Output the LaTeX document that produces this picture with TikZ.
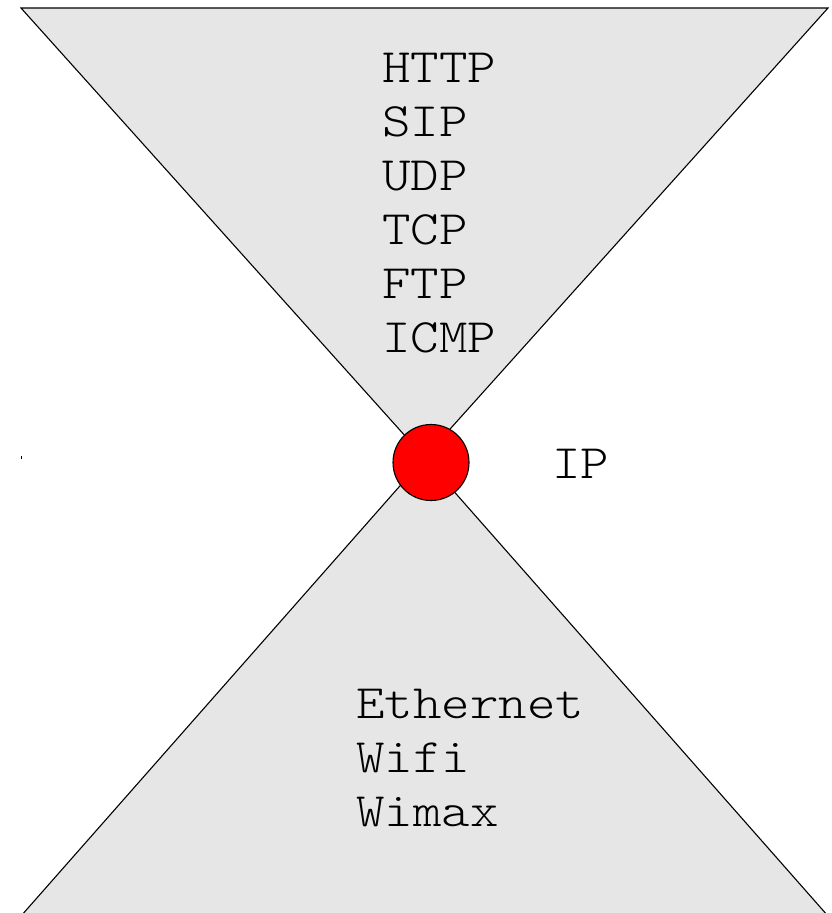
\documentclass[tikz,border=0pt]{standalone}
\usepackage{fontspec}
\newfontfamily\monof[FakeStretch=1.13]{lmmonolt10-regular.otf}
\definecolor{hgray}{RGB}{230,230,230}
\tikzset{
  layer/.style={fill=hgray, draw=black, line width=1.1pt, line join=miter},
  proto/.style={anchor=base west, inner sep=0pt, font=\monof\fontsize{48}{54}\selectfont},
  ipdot/.style={circle, fill=red, draw=black, line width=1.1pt, minimum size=76pt, inner sep=0pt}
}
\begin{document}
\begin{tikzpicture}[x=1pt,y=-1pt]
\useasboundingbox (0,0) rectangle (831,913);
% top funnel
\filldraw[layer] (21,8) -- (828,8) -- (424.5,457.5) -- cycle;
% bottom funnel
\fill[hgray] (424.5,458) -- (21,916) -- (828,916) -- cycle;
\draw[line width=1.1pt] (21,916) -- (424.5,458) -- (828,916);
% IP hub
\node[ipdot] (ip) at (431,462.5) {};
\node[proto] (iplabel) at (552,478) {IP};
% upper layer protocols
\node[proto] (http) at (382,82) {HTTP};
\node[proto] (sip) at (382,136) {SIP};
\node[proto] (udp) at (382,190) {UDP};
\node[proto] (tcp) at (382,244) {TCP};
\node[proto] (ftp) at (382,298) {FTP};
\node[proto] (icmp) at (382,352) {ICMP};
% lower layer protocols
\node[proto] (eth) at (356,718) {Ethernet};
\node[proto] (wifi) at (356,772) {Wifi};
\node[proto] (wimax) at (356,826) {Wimax};
% tiny mark
\fill (20.5,456) rectangle (22,458.5);
\end{tikzpicture}
\end{document}
